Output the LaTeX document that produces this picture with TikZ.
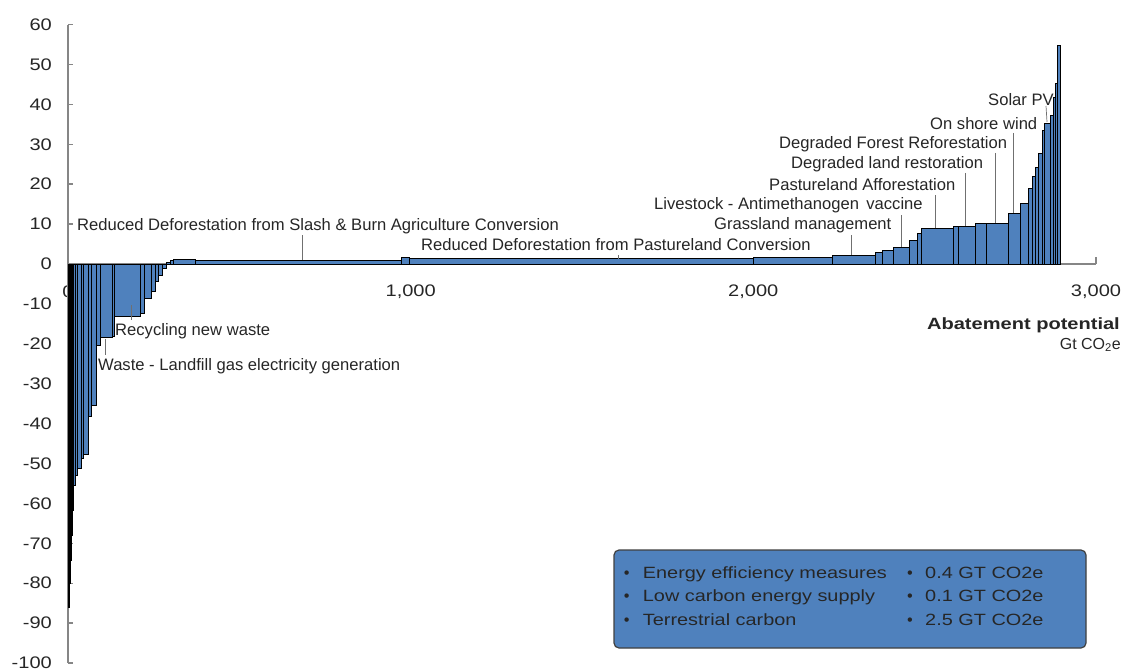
\documentclass[tikz,border=0pt]{standalone}
\usepackage{fontspec}
\setmainfont{Liberation Sans}
\definecolor{barblue}{HTML}{4F81BD}
\definecolor{txt}{HTML}{262626}
\definecolor{axisgray}{HTML}{868686}
\definecolor{leadgray}{HTML}{707070}
\begin{document}
\begin{tikzpicture}[x=1pt,y=-1pt,
  bar/.style={fill=barblue,draw=black,line width=0.8pt},
  lbl/.style={font=\fontsize{16.6}{19}\selectfont, text=txt, inner sep=0pt, anchor=west},
  ylab/.style={font=\fontsize{16.7}{19}\selectfont, text=txt, inner sep=0pt, anchor=east},
  xlab/.style={font=\fontsize{16.7}{19}\selectfont, text=txt, inner sep=0pt},
  leader/.style={draw=leadgray, line width=0.7pt},
  axis/.style={draw=axisgray, line width=1.4pt},
  legtxt/.style={font=\fontsize{16.3}{19}\selectfont, text=txt, inner sep=0pt, anchor=base west},
  legbul/.style={font=\fontsize{16.3}{19}\selectfont, text=txt, inner sep=0pt, anchor=base}]
\useasboundingbox (0,0) rectangle (1123,671);

% y axis labels
\foreach \v in {60,50,...,-100}
  \node[ylab] (yl\v) at (52,{264-3.99*\v}) {\scalebox{1.2}[1]{\v}};

% x axis labels
\node[xlab] (xl0) at (68,292) {\scalebox{1.2}[1]{0}};
\node[xlab] (xl1) at (410.7,292) {\scalebox{1.2}[1]{1,000}};
\node[xlab] (xl2) at (753.3,292) {\scalebox{1.2}[1]{2,000}};
\node[xlab] (xl3) at (1096,292) {\scalebox{1.2}[1]{3,000}};

% axes
\draw[axis] (68,25) -- (68,663);
\foreach \v in {60,50,...,-100}
  \draw[axis] (68,{264-3.99*\v}) -- (73,{264-3.99*\v});
\draw[axis] (68,264) -- (1096,264);
\draw[axis] (1096,264) -- (1096,257);

% negative bars (x1/x2/bottom)
\foreach \a/\b/\t in {68/69.2/607,69.2/70.2/583,70.2/71.2/560,71.2/72.2/535,72.2/73.3/510,
  73.3/75.7/485,75.7/77.7/475,77.7/81/468,81/83.3/458,83.3/88.3/454,88.3/91/416,91/96.7/405,
  96.7/100/345,100/112/337,112/114.3/336,114.3/140/316.7,140/144.3/313,144.3/151.7/298.3,
  151.7/155/291,155/158.3/281.7,158.3/162/275,162/166/268.5}
  \draw[bar] (\a,264) rectangle (\b,\t);

% positive bars (x1/x2/top)
\foreach \a/\b/\t in {166/170/262,170/173.3/260.5,173.3/195/259.3,195/401.7/260,401.7/409.3/257.3,
  409.3/753/258.7,753/832/257.5,832/875/255.3,875/882/252.7,882/893/250.7,893/909/247.3,
  909/917/240.7,917/921/233.3,921/953/228.3,953/958/226.7,958/975/226,975/986/223.3,
  986/1008/223.3,1008/1020/213.3,1020/1028/203.3,1028/1032/188,1032/1035/176,1035/1038/167,
  1038/1042/153,1042/1044/130,1044/1050.5/123.5,1050.5/1053/115,1053/1055/97,1055/1057/83,
  1057/1060/45}
  \draw[bar] (\a,264) rectangle (\b,\t);

% labels
\node[lbl] (lslash) at (77,226) {Reduced Deforestation from Slash \& Burn Agriculture Conversion};
\node[lbl] (lpast) at (421,245) {Reduced Deforestation from Pastureland Conversion};
\node[lbl] (lgrass) at (714,225) {Grassland management};
\node[lbl] (llive) at (654,205) {Livestock - Antimethanogen\, vaccine};
\node[lbl] (lpaff) at (769,185) {Pastureland Afforestation};
\node[lbl] (ldland) at (791,164) {Degraded land restoration};
\node[lbl] (ldfor) at (779,144) {Degraded Forest Reforestation};
\node[lbl] (lwind) at (930,124) {On shore wind};
\node[lbl] (lsolar) at (988,100) {Solar PV};
\node[lbl] (lrec) at (115,331) {Recycling new waste};
\node[lbl] (lwaste) at (98,366) {Waste - Landfill gas electricity generation};

% leader lines
\coordinate (s1) at (302.3,235); \coordinate (s2) at (302.3,260);
\coordinate (p1) at (618,255); \coordinate (p2) at (618,259);
\coordinate (g1) at (851,235); \coordinate (g2) at (851,255);
\coordinate (v1) at (901,215); \coordinate (v2) at (901,247);
\coordinate (a1) at (935,195); \coordinate (a2) at (935,228);
\coordinate (d1) at (965,173); \coordinate (d2) at (965,226);
\coordinate (f1) at (995,153); \coordinate (f2) at (995,223);
\coordinate (w1) at (1013,133); \coordinate (w2) at (1013,213);
\coordinate (o1) at (1046,106); \coordinate (o2) at (1047,122);
\coordinate (r1) at (131,305); \coordinate (r2) at (131,320);
\coordinate (l1) at (105.7,339); \coordinate (l2) at (105.7,355);
\foreach \p in {s,p,g,v,a,d,f,w,o,r,l}
  \draw[leader] (\p1) -- (\p2);

% axis title
\node[xlab, anchor=east, font=\fontsize{16.3}{19}\selectfont\bfseries] (atitle) at (1120,325) {\scalebox{1.23}[1]{Abatement potential}};
\node[xlab, anchor=east, font=\fontsize{16}{19}\selectfont] (aunit) at (1121,345) {Gt CO\textsubscript{2}e};

% legend
\node[draw=black!75, line width=1.2pt, fill=barblue, rounded corners=5pt,
  minimum width=472pt, minimum height=98pt, inner sep=0pt] (legend) at (850,599) {};
\node[legbul] (b1) at (626.7,578) {\textbullet};
\node[legbul] (b2) at (626.7,601.5) {\textbullet};
\node[legbul] (b3) at (626.7,625) {\textbullet};
\node[legtxt] (t1) at (642.7,578) {\scalebox{1.22}[1]{Energy efficiency measures}};
\node[legtxt] (t2) at (642.7,601.5) {\scalebox{1.22}[1]{Low carbon energy supply}};
\node[legtxt] (t3) at (642.7,625) {\scalebox{1.22}[1]{Terrestrial carbon}};
\node[legbul] (c1) at (910,578) {\textbullet};
\node[legbul] (c2) at (910,601.5) {\textbullet};
\node[legbul] (c3) at (910,625) {\textbullet};
\node[legtxt] (u1) at (925,578) {\scalebox{1.22}[1]{0.4 GT CO2e}};
\node[legtxt] (u2) at (925,601.5) {\scalebox{1.22}[1]{0.1 GT CO2e}};
\node[legtxt] (u3) at (925,625) {\scalebox{1.22}[1]{2.5 GT CO2e}};
\end{tikzpicture}
\end{document}
